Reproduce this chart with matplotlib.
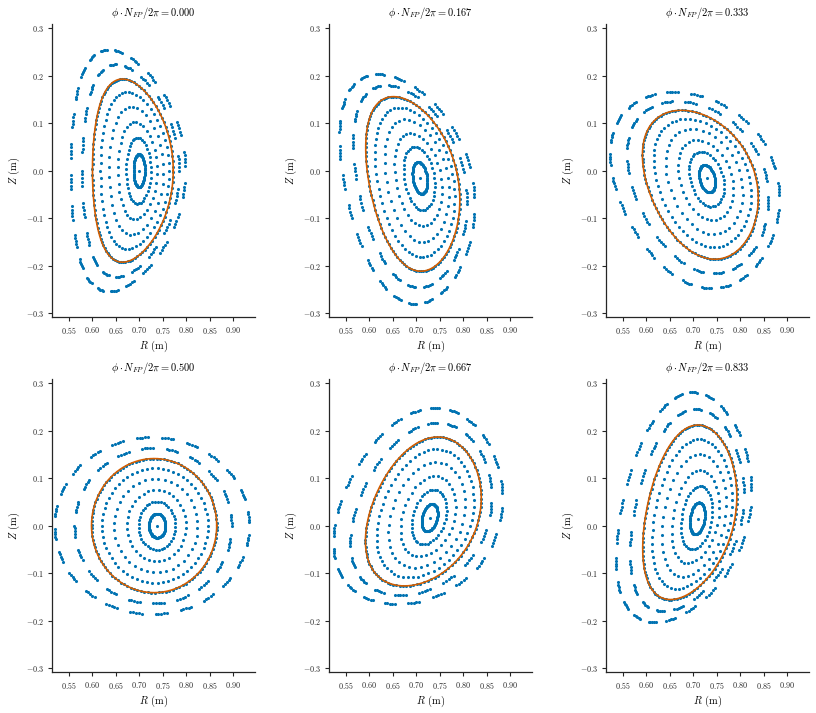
import numpy as np
import matplotlib
matplotlib.use("Agg")
import matplotlib.pyplot as plt

plt.rcParams['font.family'] = 'serif'
plt.rcParams['font.serif'] = ['cmr10']
plt.rcParams['mathtext.fontset'] = 'cm'
plt.rcParams['axes.formatter.use_mathtext'] = True

# ---- data (per panel) ----
phase_labels = ["0.000", "0.167", "0.333", "0.500", "0.667", "0.833"]
axis_R = [0.700, 0.708, 0.7296, 0.738, 0.7285, 0.709]
axis_Z = [0.0, -0.015, -0.0166, 0.0, 0.0166, 0.015]
kappa0 = [3.2, 2.3, 2.06, 1.65, 2.06, 2.3]          # elongation near axis
alpha0 = [0.0, 8.0, 12.0, 0.0, -12.0, -8.0]          # tilt near axis (deg)
bnd_R = [0.686, 0.6945, 0.7186, 0.7313, 0.7186, 0.6945]
bnd_Z = [0.0, -0.025, -0.0247, 0.0, 0.0247, 0.025]
bnd_a = [0.086, 0.094, 0.112, 0.1333, 0.112, 0.094]
bnd_b = [0.193, 0.187, 0.165, 0.1413, 0.165, 0.187]
bnd_delta = [0.26, 0.16, 0.12, 0.0, 0.12, 0.16]
bnd_alpha = [0.0, 12.0, 24.8, 0.0, -24.8, -12.0]

inner_rho = [0.18, 0.36, 0.53, 0.70, 0.855, 1.0]
inner_npts = [80, 40, 36, 40, 62, 110]
outer_rho = [1.16, 1.32]
outer_nseg = [20, 24]
seg_pts = 5
seg_fill = 0.45

xticks = [0.55, 0.60, 0.65, 0.70, 0.75, 0.80, 0.85, 0.90]
yticks = [-0.3, -0.2, -0.1, 0.0, 0.1, 0.2, 0.3]

BLUE = '#0173b2'
ORANGE = '#d55e00'


def surface(p, rho, t):
    kb = bnd_b[p] / bnd_a[p]
    if rho <= 1:
        kap = kb + (kappa0[p] - kb) * (1 - rho) ** 2
    else:
        kap = kb - 0.5 * (rho - 1)
    b = bnd_b[p] * rho
    a = b / kap
    cR = axis_R[p] + (bnd_R[p] - axis_R[p]) * rho ** 2
    cZ = axis_Z[p] + (bnd_Z[p] - axis_Z[p]) * rho ** 2
    d = bnd_delta[p] * rho
    al = np.radians(alpha0[p] + (bnd_alpha[p] - alpha0[p]) * rho)
    u = a * np.cos(t + d * np.sin(t))
    v = b * np.sin(t)
    R = cR + u * np.cos(al) - v * np.sin(al)
    Z = cZ + u * np.sin(al) + v * np.cos(al)
    return R, Z


W, H = 816, 713
fig = plt.figure(figsize=(W / 100, H / 100), dpi=100)

for p in range(6):
    r, c = divmod(p, 3)
    left = 51.7 + 277 * c
    top = 24 + 355 * r
    ax = fig.add_axes([left / W, (H - top - 293) / H, 203.5 / W, 293 / H])

    Rs, Zs = [axis_R[p]], [axis_Z[p]]
    for rho, n in zip(inner_rho, inner_npts):
        t = np.linspace(0, 2 * np.pi, n, endpoint=False) + 0.1
        R, Z = surface(p, rho, t)
        Rs.extend(R); Zs.extend(Z)
    for k, (rho, ns) in enumerate(zip(outer_rho, outer_nseg)):
        per = 2 * np.pi / ns
        for j in range(ns):
            t0 = j * per + 0.3 * k
            t = t0 + np.linspace(0, seg_fill * per, seg_pts)
            R, Z = surface(p, rho, t)
            Rs.extend(R); Zs.extend(Z)
    ax.scatter(Rs, Zs, s=5, c=BLUE, linewidths=0, zorder=2)

    tb = np.linspace(0, 2 * np.pi, 500)
    R, Z = surface(p, 1.0, tb)
    ax.plot(R, Z, color=ORANGE, lw=1.2, zorder=3)

    ax.set_xlim(0.5132, 0.9465)
    ax.set_ylim(-0.3085, 0.309)
    ax.set_xticks(xticks)
    ax.set_yticks(yticks)
    ax.tick_params(labelsize=5.8, length=3, width=0.8, colors='#262626', pad=2.5)
    for s in ['top', 'right']:
        ax.spines[s].set_visible(False)
    for s in ['left', 'bottom']:
        ax.spines[s].set_color('#262626')
        ax.spines[s].set_linewidth(0.9)
    ax.set_xlabel(r'$R$ (m)', fontsize=7.5, labelpad=2.5)
    ax.set_ylabel(r'$Z$ (m)', fontsize=7.5, labelpad=3)
    ax.set_title(r'$\phi \cdot N_{FP} / 2\pi = ' + phase_labels[p] + '$', fontsize=7.5, pad=6)

fig.savefig('out.png', dpi=100)
